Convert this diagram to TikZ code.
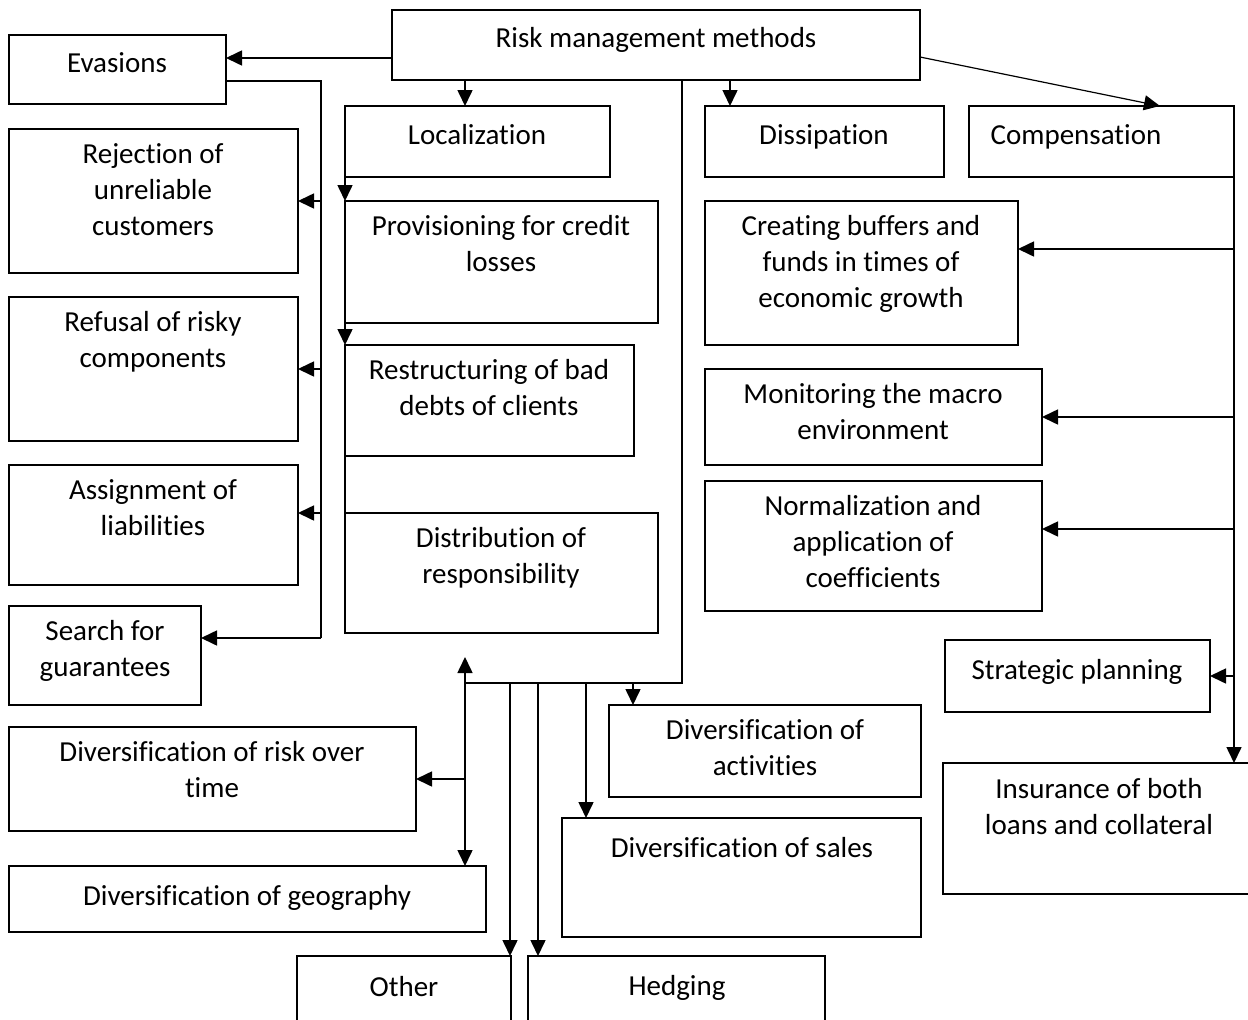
\documentclass[tikz,border=0pt]{standalone}
\usepackage{fontspec}
\setmainfont{Carlito}[Ligatures=NoCommon]
\usetikzlibrary{arrows.meta}
\tikzset{
  box/.style={draw, line width=1.6pt, anchor=north west, inner sep=0pt, outer sep=0pt},
  txt/.style={anchor=north, align=center, inner sep=0pt, font=\fontsize{29}{36}\selectfont, execute at begin node={\strut}},
  conn/.style={line width=1.6pt},
  arr/.style={line width=1.6pt, -{Triangle[length=16pt,width=15pt]}}
}
\newcommand\bx[8]{%
  \node[box, minimum width={#4pt-#2pt}, minimum height={#5pt-#3pt}] (#1) at (#2,#3) {};
  \node[txt] at (#6,#7-16) {#8};}
\begin{document}
\begin{tikzpicture}[x=1pt,y=-1pt]
\clip (0,0) rectangle (1248,1020);
\fill[white] (0,0) rectangle (1248,1020);
% boxes
\bx{rmm}{392}{10}{920}{80}{656}{38}{Risk management methods}
\bx{evas}{9}{35}{226}{104}{117}{63}{Evasions}
\bx{loc}{345}{106}{610}{177}{477}{135}{Localization}
\bx{diss}{705}{106}{944}{177}{824}{135}{Dissipation}
\bx{comp}{969}{106}{1234}{177}{1076}{135}{Compensation}
\bx{rej}{9}{129}{298}{273}{153}{159}{Rejection of\\unreliable\\customers}
\bx{refu}{9}{297}{298}{441}{153}{327}{Refusal of risky\\components}
\bx{assi}{9}{465}{298}{585}{153}{495}{Assignment of\\liabilities}
\bx{search}{9}{606}{201}{705}{105}{636}{Search for\\guarantees}
\bx{prov}{345}{201}{658}{323}{501}{231}{Provisioning for credit\\losses}
\bx{restr}{345}{345}{634}{456}{489}{375}{Restructuring of bad\\debts of clients}
\bx{dist}{345}{513}{658}{633}{501}{543}{Distribution of\\responsibility}
\bx{buf}{705}{201}{1018}{345}{861}{231}{Creating buffers and\\funds in times of\\economic growth}
\bx{mon}{705}{369}{1042}{465}{873}{399}{Monitoring the macro\\environment}
\bx{norm}{705}{481}{1042}{611}{873}{511}{Normalization and\\application of\\coefficients}
\bx{strat}{945}{640}{1210}{712}{1077}{670}{Strategic planning}
\bx{ins}{943}{763}{1262}{894}{1099}{794}{Insurance of both\\loans and collateral}
\bx{act}{609}{705}{921}{797}{765}{735}{Diversification of\\activities}
\bx{time}{9}{727}{416}{831}{212}{757}{Diversification of risk over\\time}
\bx{sales}{562}{818}{921}{937}{742}{848}{Diversification of sales}
\bx{geo}{9}{866}{486}{932}{247}{896}{Diversification of geography}
\bx{other}{297}{956}{511}{1040}{404}{987}{Other}
\bx{hedge}{528}{956}{825}{1040}{677}{986}{Hedging}
% connector points
\coordinate (ev1) at (321,81);
\coordinate (ev2) at (321,638);
\coordinate (c1) at (682,683);
\coordinate (c2) at (465,683);
\coordinate (upend) at (465,657);
% top to evasions
\draw[arr] (rmm.west |- 0,58) -- (evas.east |- 0,58);
% evasions branch
\draw[conn] (evas.east |- ev1) -- (ev1) -- (ev2);
\draw[arr] (ev2) -- (search.east |- ev2);
\draw[arr] (ev1 |- 0,201) -- (rej.east |- 0,201);
\draw[arr] (ev1 |- 0,369) -- (refu.east |- 0,369);
\draw[arr] (ev1 |- 0,513) -- (assi.east |- 0,513);
% localization
\draw[arr] (rmm.south -| 465,0) -- (loc.north -| 465,0);
\draw[arr] (loc.south west) -- (prov.north west);
\draw[arr] (prov.south west) -- (restr.north west);
\draw[conn] (restr.south west) -- (dist.north west);
% diversification branch
\draw[conn] (rmm.south -| c1) -- (c1) -- (c2);
\draw[arr] (c2) -- (upend);
\draw[arr] (c2) -- (geo.north -| c2);
\draw[arr] (c2 |- time.east) -- (time.east);
\draw[arr] (c2 -| 510,0) -- (other.north -| 510,0);
\draw[arr] (c2 -| 538,0) -- (hedge.north -| 538,0);
\draw[arr] (c2 -| 586,0) -- (sales.north -| 586,0);
\draw[arr] (c2 -| 633,0) -- (act.north -| 633,0);
% dissipation
\draw[arr] (rmm.south -| 730,0) -- (diss.north -| 730,0);
% compensation
\draw[arr, line width=1.2pt] (rmm.east |- 0,57) -- (comp.north -| 1160,0);
\draw[arr] (comp.south east) -- (ins.north -| comp.east);
\draw[arr] (comp.east |- 0,249) -- (buf.east |- 0,249);
\draw[arr] (comp.east |- mon.east) -- (mon.east);
\draw[arr] (comp.east |- 0,529) -- (norm.east |- 0,529);
\draw[arr] (comp.east |- strat.east) -- (strat.east);
\end{tikzpicture}
\end{document}
